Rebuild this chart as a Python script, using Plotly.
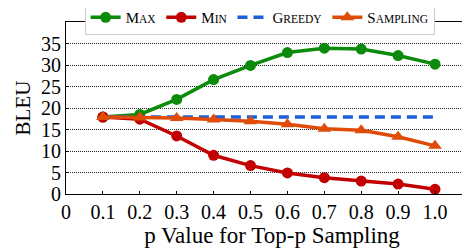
import plotly.graph_objects as go

p_values = [0.1, 0.2, 0.3, 0.4, 0.5, 0.6, 0.7, 0.8, 0.9, 1.0]
bleu_max = [17.9, 18.5, 22.0, 26.6, 29.9, 32.9, 33.9, 33.7, 32.2, 30.2]
bleu_min = [17.9, 17.4, 13.5, 9.0, 6.6, 4.9, 3.8, 3.0, 2.3, 1.1]
bleu_greedy = [17.9] * 10
bleu_sampling = [17.9, 17.8, 17.7, 17.3, 16.9, 16.2, 15.2, 14.8, 13.3, 11.2]

x_tickvals = [0, 0.1, 0.2, 0.3, 0.4, 0.5, 0.6, 0.7, 0.8, 0.9, 1.0]
x_ticktext = ["0", "0.1", "0.2", "0.3", "0.4", "0.5", "0.6", "0.7", "0.8", "0.9", "1.0"]
y_tickvals = [0, 5, 10, 15, 20, 25, 30, 35]

FONT = "Liberation Serif"

def sc(first, rest):
    return f"{first}<span style='font-size:11.5px'>{rest}</span>"

fig = go.Figure()
fig.add_trace(go.Scatter(x=p_values, y=bleu_max, mode="lines+markers", name=sc("M", "AX"),
                         line=dict(color="#0b8a0b", width=3.5),
                         marker=dict(symbol="circle", size=11, color="#0b8a0b")))
fig.add_trace(go.Scatter(x=p_values, y=bleu_min, mode="lines+markers", name=sc("M", "IN"),
                         line=dict(color="#c20000", width=3.5),
                         marker=dict(symbol="circle", size=11, color="#c20000")))
fig.add_trace(go.Scatter(x=p_values, y=bleu_greedy, mode="lines", name=sc("G", "REEDY"),
                         line=dict(color="#1a5fd6", width=3.5, dash="10px,6px")))
fig.add_trace(go.Scatter(x=p_values, y=bleu_sampling, mode="lines+markers", name=sc("S", "AMPLING"),
                         line=dict(color="#e04c08", width=3.5),
                         marker=dict(symbol="triangle-up", size=12, color="#e04c08")))

fig.update_layout(
    width=470, height=249,
    margin=dict(l=58, r=0, t=14, b=63, autoexpand=False),
    paper_bgcolor="white", plot_bgcolor="white",
    font=dict(family=FONT, color="black", size=20),
    showlegend=True,
    legend=dict(orientation="h", x=0.47, xanchor="center", y=1.026, yanchor="middle",
                bgcolor="white", bordercolor="#cccccc", borderwidth=1,
                font=dict(family=FONT, size=15, color="black"),
                itemwidth=30, tracegroupgap=0),
    xaxis=dict(range=[0, 1.1165], tickvals=x_tickvals, ticktext=x_ticktext,
               showline=True, linecolor="black", linewidth=1.2, mirror=True,
               ticks="inside", ticklen=3, tickcolor="black",
               showgrid=False, zeroline=False,
               tickfont=dict(size=20),
               title=dict(text="p Value for Top-p Sampling", font=dict(size=23), standoff=2)),
    yaxis=dict(range=[0, 40], tickvals=y_tickvals,
               showline=True, linecolor="black", linewidth=1.2,
               ticks="inside", ticklen=3, tickcolor="black",
               showgrid=True, gridcolor="#222222", gridwidth=1, griddash="1px,1px",
               zeroline=False,
               tickfont=dict(size=20),
               title=dict(text="BLEU", font=dict(size=21), standoff=4)),
)

fig.write_html("out.html")
